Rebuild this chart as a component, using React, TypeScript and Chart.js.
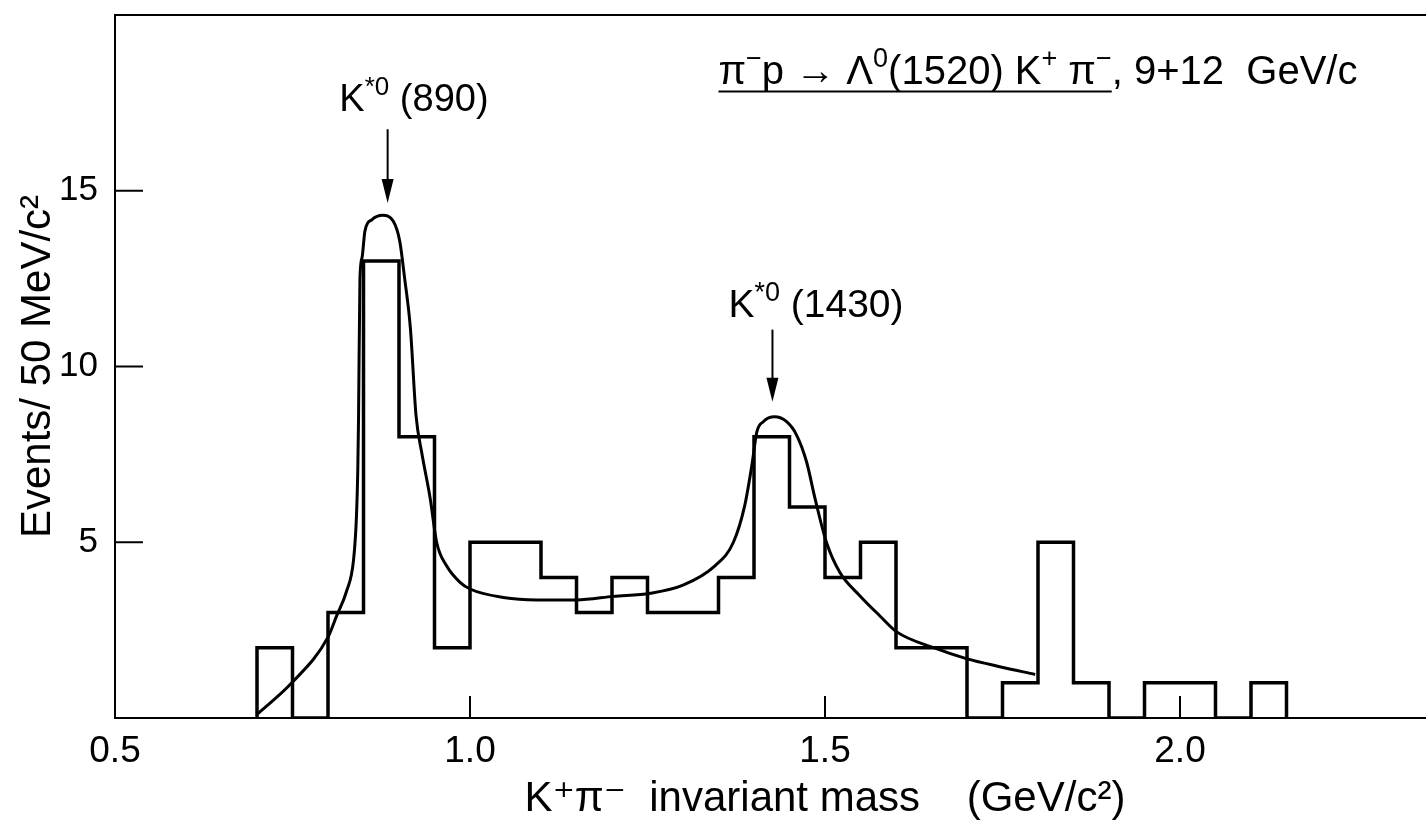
import React, { useEffect, useRef } from "react";
import { Chart, registerables } from "chart.js";

Chart.register(...registerables);

// ---- data ----
const binStarts = [
  0.7, 0.75, 0.8, 0.85, 0.9, 0.95, 1.0, 1.05, 1.1, 1.15, 1.2, 1.25, 1.3, 1.35, 1.4,
  1.45, 1.5, 1.55, 1.6, 1.65, 1.7, 1.75, 1.8, 1.85, 1.9, 1.95, 2.0, 2.05, 2.1,
];
const binWidth = 0.05;
const eventCounts = [
  2, 0, 3, 13, 8, 2, 5, 5, 4, 3, 4, 3, 3, 4, 8, 6, 4, 5, 2, 2, 0, 1, 5, 1, 0, 1, 1, 0, 1,
];

const fitMass = [
  0.7, 0.749, 0.8, 0.812, 0.826, 0.836, 0.84, 0.842, 0.843, 0.845, 0.848, 0.852, 0.862,
  0.877, 0.892, 0.901, 0.908, 0.916, 0.924, 0.932, 0.944, 0.953, 0.967, 0.986, 1.0, 1.047,
  1.094, 1.15, 1.202, 1.254, 1.3, 1.345, 1.371, 1.387, 1.397, 1.404, 1.413, 1.429, 1.446,
  1.46, 1.474, 1.486, 1.502, 1.521, 1.549, 1.577, 1.601, 1.653, 1.699, 1.746, 1.796,
];
const fitEvents = [
  0.1, 1.0, 2.3, 2.9, 3.6, 4.5, 5.7, 7.1, 8.5, 12.5, 13.1, 13.85, 14.18, 14.3, 14.13, 13.57,
  12.5, 11.1, 8.6, 7.55, 6.24, 5.0, 4.33, 3.86, 3.67, 3.43, 3.36, 3.36, 3.46, 3.55, 3.78,
  4.33, 5.0, 6.05, 7.19, 8.14, 8.43, 8.57, 8.43, 8.05, 7.29, 6.24, 5.0, 4.14, 3.48, 2.91,
  2.45, 2.0, 1.69, 1.46, 1.24,
];

const xTickValues = [0.5, 1.0, 1.5, 2.0];
const yTickValues = [5, 10, 15];

const peakNames = ["(890)", "(1430)"];
const peakMass = [0.884, 1.426];
const arrowTopEvents = [16.75, 11.05];
const arrowTipEvents = [14.65, 9.0];

const FONT = "'Liberation Sans', 'DejaVu Sans', sans-serif";

type Part = { t: string; sup?: boolean };

function drawRich(ctx: CanvasRenderingContext2D, parts: Part[], x: number, y: number, size: number) {
  let cx = x;
  const starts: number[] = [];
  for (const p of parts) {
    starts.push(cx);
    if (p.sup) {
      ctx.font = `${Math.round(size * 0.68)}px ${FONT}`;
      ctx.fillText(p.t, cx, y - size * 0.42);
    } else {
      ctx.font = `${size}px ${FONT}`;
      ctx.fillText(p.t, cx, y);
    }
    cx += ctx.measureText(p.t).width;
  }
  starts.push(cx);
  return starts;
}

const decorPlugin = {
  id: "decor",
  afterDatasetsDraw(chart: any) {
    const { ctx, chartArea } = chart;
    const xs = chart.scales.x;
    const ys = chart.scales.y;
    ctx.save();
    ctx.strokeStyle = "#000";
    ctx.fillStyle = "#000";
    ctx.lineCap = "butt";

    // top frame line
    ctx.lineWidth = 2;
    ctx.beginPath();
    ctx.moveTo(chartArea.left - 1, chartArea.top);
    ctx.lineTo(chartArea.right, chartArea.top);
    ctx.stroke();

    // inward ticks
    ctx.lineWidth = 2;
    for (const v of yTickValues) {
      const py = ys.getPixelForValue(v);
      ctx.beginPath();
      ctx.moveTo(chartArea.left, py);
      ctx.lineTo(chartArea.left + 28, py);
      ctx.stroke();
    }
    for (const v of xTickValues) {
      const px = xs.getPixelForValue(v);
      ctx.beginPath();
      ctx.moveTo(px, chartArea.bottom);
      ctx.lineTo(px, chartArea.bottom - 22);
      ctx.stroke();
    }

    // arrows
    for (let i = 0; i < peakMass.length; i++) {
      const px = xs.getPixelForValue(peakMass[i]);
      const y1 = ys.getPixelForValue(arrowTopEvents[i]);
      const y2 = ys.getPixelForValue(arrowTipEvents[i]);
      ctx.lineWidth = 2;
      ctx.beginPath();
      ctx.moveTo(px, y1);
      ctx.lineTo(px, y2 - 20);
      ctx.stroke();
      ctx.beginPath();
      ctx.moveTo(px - 6, y2 - 24);
      ctx.lineTo(px + 6, y2 - 24);
      ctx.lineTo(px, y2);
      ctx.closePath();
      ctx.fill();
    }

    // peak labels
    ctx.textBaseline = "alphabetic";
    ctx.textAlign = "left";
    drawRich(
      ctx,
      [{ t: "K" }, { t: "*0", sup: true }, { t: " " + peakNames[0] }],
      xs.getPixelForValue(0.816),
      ys.getPixelForValue(17.28),
      38
    );
    drawRich(
      ctx,
      [{ t: "K" }, { t: "*0", sup: true }, { t: " " + peakNames[1] }],
      xs.getPixelForValue(1.364),
      ys.getPixelForValue(11.4),
      39
    );

    // reaction label
    const lx = xs.getPixelForValue(1.35);
    const ly = ys.getPixelForValue(18.05);
    const starts = drawRich(
      ctx,
      [
        { t: "π" },
        { t: "−", sup: true },
        { t: "p " },
        { t: "→" },
        { t: " Λ" },
        { t: "0", sup: true },
        { t: "(1520) K" },
        { t: "+", sup: true },
        { t: " π" },
        { t: "−", sup: true },
        { t: ", 9+12  GeV/c" },
      ],
      lx,
      ly,
      40
    );
    ctx.lineWidth = 2;
    ctx.beginPath();
    ctx.moveTo(lx, ly + 8);
    ctx.lineTo(starts[10], ly + 8);
    ctx.stroke();

    ctx.restore();
  },
};

export default function App() {
  const canvasRef = useRef<HTMLCanvasElement | null>(null);

  useEffect(() => {
    const canvas = canvasRef.current;
    if (!canvas) return;

    const histPoints: { x: number; y: number }[] = [{ x: binStarts[0], y: 0 }];
    binStarts.forEach((s, i) => {
      histPoints.push({ x: s, y: eventCounts[i] });
      histPoints.push({ x: s + binWidth, y: eventCounts[i] });
    });
    histPoints.push({ x: binStarts[binStarts.length - 1] + binWidth, y: 0 });

    const fitPoints = fitMass.map((m, i) => ({ x: m, y: fitEvents[i] }));

    const chart = new Chart(canvas, {
      type: "line",
      data: {
        datasets: [
          {
            label: "Events",
            data: histPoints,
            borderColor: "#000",
            borderWidth: 3.5,
            pointRadius: 0,
            tension: 0,
            fill: false,
            borderJoinStyle: "miter",
          },
          {
            label: "Fit",
            data: fitPoints,
            borderColor: "#000",
            borderWidth: 3,
            pointRadius: 0,
            cubicInterpolationMode: "monotone",
            fill: false,
          },
        ],
      },
      options: {
        animation: false,
        responsive: false,
        devicePixelRatio: 1,
        layout: { padding: { top: 15, right: 0, left: 0, bottom: 0 } },
        plugins: {
          legend: { display: false },
          tooltip: { enabled: false },
          title: { display: false },
        },
        scales: {
          x: {
            type: "linear",
            min: 0.5,
            max: 2.5,
            afterBuildTicks: (scale: any) => {
              scale.ticks = xTickValues.map((v) => ({ value: v }));
            },
            afterFit: (scale: any) => {
              scale.height = 109;
              scale.paddingLeft = 0;
              scale.paddingRight = 0;
            },
            grid: { display: false },
            border: { display: true, color: "#000", width: 2 },
            ticks: {
              color: "#000",
              font: { family: FONT, size: 37 },
              padding: 4,
              maxRotation: 0,
              callback: (v: any) => Number(v).toFixed(1),
            },
            title: {
              display: true,
              text: "K⁺π⁻  invariant mass    (GeV/c²)",
              color: "#000",
              font: { family: FONT, size: 42 },
              padding: { top: 0, bottom: 2 },
            },
          },
          y: {
            type: "linear",
            min: 0,
            max: 20,
            afterBuildTicks: (scale: any) => {
              scale.ticks = yTickValues.map((v) => ({ value: v }));
            },
            afterFit: (scale: any) => {
              scale.width = 115;
              scale.paddingTop = 0;
              scale.paddingBottom = 0;
            },
            grid: { display: false },
            border: { display: true, color: "#000", width: 2 },
            ticks: {
              color: "#000",
              font: { family: FONT, size: 35 },
              padding: 9,
            },
            title: {
              display: true,
              text: "Events/ 50 MeV/c²",
              color: "#000",
              font: { family: FONT, size: 42 },
              padding: { top: 13, bottom: 0 },
            },
          },
        },
      },
      plugins: [decorPlugin],
    } as any);

    return () => chart.destroy();
  }, []);

  return (
    <div
      style={{
        position: "fixed",
        left: 0,
        top: 0,
        width: 1426,
        height: 827,
        overflow: "hidden",
        background: "#fff",
      }}
    >
      <canvas ref={canvasRef} width={1535} height={827} style={{ display: "block", width: 1535, height: 827 }} />
    </div>
  );
}
